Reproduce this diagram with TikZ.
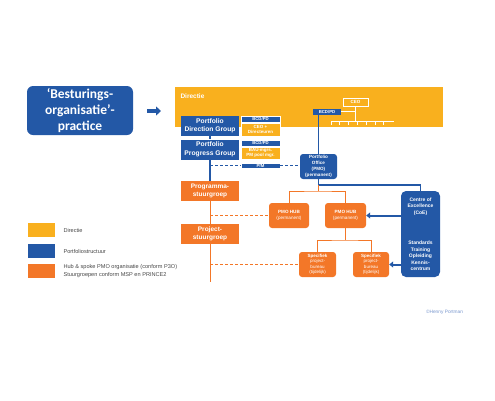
\documentclass[tikz,border=0pt]{standalone}
\usepackage{fontspec}
\setmainfont{Liberation Sans}
\newfontfamily\titlefont{Carlito}
\usetikzlibrary{arrows.meta,positioning}
\definecolor{mlblue}{RGB}{35,88,166}
\definecolor{mlorange}{RGB}{243,119,40}
\definecolor{mlyellow}{RGB}{249,176,30}
\definecolor{mllink}{RGB}{120,150,205}
\definecolor{mltext}{RGB}{70,70,70}
\newcommand{\fsz}[2]{\fontsize{#1}{#2}\selectfont}
\tikzset{
  box/.style={inner sep=0.5pt, align=center, text=white, font=\bfseries},
  bluebox/.style={box, fill=mlblue},
  orangebox/.style={box, fill=mlorange},
  yellowbox/.style={box, fill=mlyellow},
  tagbox/.style={draw=white, line width=0.4pt, minimum width=39pt},
  bline/.style={draw=mlblue, line width=1.2pt},
  oline/.style={draw=mlorange, line width=1pt},
  wline/.style={draw=white, line width=0.8pt},
  fat/.style={draw=mlblue, line width=2pt, -{Triangle[length=4pt,width=6pt]}},
  legbox/.style={minimum width=27pt, minimum height=14pt, inner sep=0pt},
  legtext/.style={anchor=west, align=left, text=mltext, font=\fsz{5.6}{8}}
}

\begin{document}
\begin{tikzpicture}[x=1pt,y=-1pt]
  \useasboundingbox (0,0) rectangle (495,400);
  % Title and arrow
  \node[bluebox, rounded corners=6pt, minimum width=106pt, minimum height=49pt,
        font=\titlefont\bfseries\fsz{13.5}{16}] (title) at (80,110.5)
        {‘Besturings-\\organisatie’-\\practice};
  \coordinate (arrS) at (147,111);
  \coordinate (arrE) at (161,111);
  \draw[draw=mlblue, line width=3.5pt, -{Triangle[length=5pt,width=9pt]}] (arrS) -- (arrE);
  % Directie banner
  \node[yellowbox, minimum width=268pt, minimum height=40pt] (dir) at (309,107) {};
  \node[anchor=west, text=white, font=\bfseries\fsz{6.5}{7}] (dirlbl) at (177,96) {Directie};
  \node[draw=white, line width=0.6pt, text=white, font=\bfseries\fsz{4.5}{5},
        minimum width=25pt, minimum height=8pt, inner sep=0pt] (ceo) at (355.5,102) {CEO};
  \node[bluebox, font=\bfseries\fsz{4.3}{5}, minimum width=28pt, minimum height=5.5pt] (bcd) at (327,111.8) {BCD/PD};
  \coordinate (spanL) at (331,121);
  \coordinate (spanR) at (394,121);
  \draw[wline] (bcd.east) -- (ceo.south |- bcd.east);
  \draw[wline] (ceo.south) -- (ceo.south |- spanL);
  \draw[wline] (spanL) -- (spanR);
  \foreach \i in {0,...,6}
    \draw[wline] ([xshift=\i*8.8pt]spanL) -- ++(0,3.5);
  % Portfolio groups
  \node[bluebox, font=\bfseries\fsz{6.7}{8.5}, minimum width=58pt, minimum height=20pt] (pdg) at (210,126) {Portfolio\\Direction Group};
  \node[bluebox, tagbox, font=\bfseries\fsz{4.3}{5}, minimum height=6pt] (pdgtag) at (260.5,119) {BCD/PD};
  \node[yellowbox, tagbox, font=\bfseries\fsz{4.5}{5.5}, minimum height=13pt] (pdgwho) at (260.5,129.5) {CEO +\\Directeuren};
  \node[bluebox, font=\bfseries\fsz{6.7}{8.5}, minimum width=58pt, minimum height=20pt] (ppg) at (210,149.5) {Portfolio\\Progress Group};
  \node[bluebox, tagbox, font=\bfseries\fsz{4.3}{5}, minimum height=6pt] (ppgtag) at (260.5,143) {BCD/PD};
  \node[yellowbox, tagbox, font=\bfseries\fsz{4.5}{5.3}, minimum height=12.5pt] (ppgwho) at (260.5,153.2) {BAU-mgrs.\\PM pool mgr.};
  \node[bluebox, tagbox, font=\bfseries\fsz{4.3}{5}, minimum height=5.5pt] (pfm) at (260.5,165.5) {PfM};
  % Portfolio office
  \node[bluebox, rounded corners=3pt, font=\bfseries\fsz{4.6}{6}, minimum width=37pt, minimum height=25pt] (pmo) at (318.5,166.5) {Portfolio\\Office\\(PMO)\\(permanent)};
  % Stuurgroepen
  \node[orangebox, font=\bfseries\fsz{6.5}{8}, minimum width=58pt, minimum height=20pt] (prg) at (210,191) {Programma-\\stuurgroep};
  \node[orangebox, font=\bfseries\fsz{6.5}{8}, minimum width=58pt, minimum height=20pt] (prj) at (210,234) {Project-\\stuurgroep};
  \coordinate (prjend) at (210,282);
  % Hubs and spokes
  \node[orangebox, rounded corners=3pt, font=\bfseries\fsz{4.6}{6}, minimum width=40pt, minimum height=25pt] (hubL) at (289,215.5) {PMO HUB\\{\mdseries(permanent)}};
  \node[orangebox, rounded corners=3pt, font=\bfseries\fsz{4.6}{6}, minimum width=41pt, minimum height=25pt] (hubR) at (345.5,215.5) {PMO HUB\\{\mdseries(permanent)}};
  \node[orangebox, rounded corners=3pt, font=\bfseries\fsz{4.5}{5.5}, minimum width=37pt, minimum height=25pt] (specL) at (317.5,264.5) {Specifiek\\{\mdseries project-}\\{\mdseries bureau}\\{\mdseries (tijdelijk)}};
  \node[orangebox, rounded corners=3pt, font=\bfseries\fsz{4.5}{5.5}, minimum width=36pt, minimum height=25pt] (specR) at (371,264.5) {Specifiek\\{\mdseries project-}\\{\mdseries bureau}\\{\mdseries (tijdelijk)}};
  % Centre of Excellence
  \node[bluebox, rounded corners=5pt, font=\bfseries\fsz{5}{6.5}, minimum width=39pt, minimum height=86pt] (coe) at (420.5,234)
        {Centre of\\Excellence\\(CoE)\\[24pt]Standards\\Training\\Opleiding\\Kennis-\\centrum};
  % Connectors
  \draw[bline] (pmo.north |- bcd.south) -- (pmo.north);
  \draw[bline] (pdg.south) -- (ppg.north);
  \draw[bline] (ppg.south) -- (prg.north);
  \draw[oline] (prg.south) -- (prj.north);
  \draw[oline] (prj.south) -- (prjend);
  \draw[bline, dash pattern=on 3pt off 2pt] (ppg.south |- pfm.west) -- (pfm.west);
  \draw[bline, dash pattern=on 3pt off 2pt] (pfm.east) -- (pmo.west |- pfm.east);
  \draw[oline, dash pattern=on 3pt off 2pt] (prg.south |- hubL.west) -- (hubL.west);
  \draw[oline, dash pattern=on 3pt off 2pt] (prj.south |- specL.west) -- (specL.west);
  \coordinate (pmofork) at (318.5,185);
  \coordinate (hubfork) at (318.5,191);
  \coordinate (specfork) at (345.5,240);
  \draw[bline] (pmo.south) -- (pmofork) -| (coe.north);
  \draw[oline] (pmofork) -- (hubfork);
  \draw[oline] (hubL.north) |- (hubfork) -| (hubR.north);
  \draw[oline] (hubR.south) -- (specfork);
  \draw[oline] (specL.north) |- (specfork) -| (specR.north);
  \draw[fat] (coe.west |- hubR.east) -- (hubR.east);
  \draw[fat] (coe.west |- specR.east) -- (specR.east);
  % Legend
  \node[legbox, fill=mlyellow] (legY) at (41.5,230) {};
  \node[legtext] (legYt) at (60,230) {Directie};
  \node[legbox, fill=mlblue] (legB) at (41.5,251) {};
  \node[legtext] (legBt) at (60,251) {Portfoliostructuur};
  \node[legbox, fill=mlorange] (legO) at (41.5,271) {};
  \node[legtext] (legOt) at (60,271) {Hub \& spoke PMO organisatie (conform P3O)\\Stuurgroepen conform MSP en PRINCE2};
  % Credit
  \node[text=mllink, font=\fsz{4.8}{6}] (credit) at (444.5,312) {©Henny Portman};
\end{tikzpicture}
\end{document}
